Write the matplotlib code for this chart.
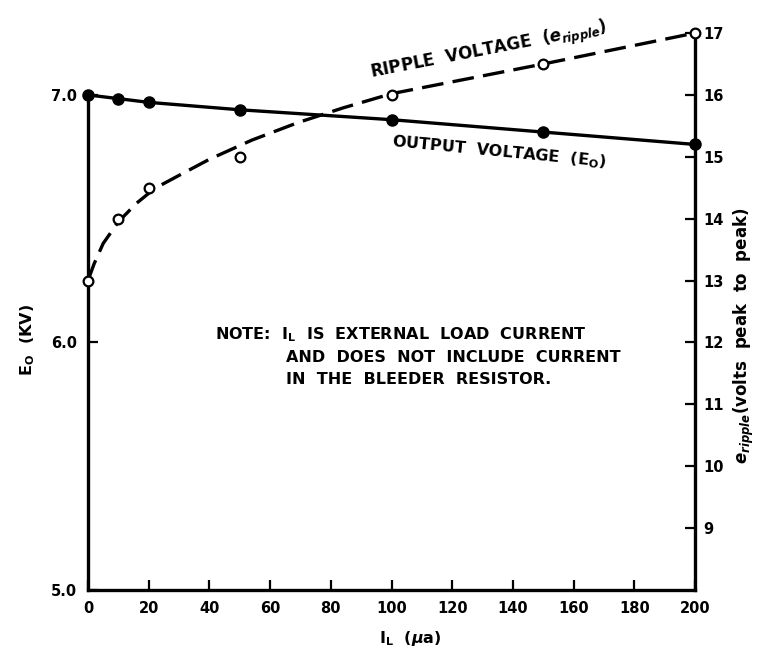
import matplotlib
matplotlib.use("Agg")
import matplotlib.pyplot as plt

plt.rcParams['font.family'] = 'DejaVu Sans'
plt.rcParams['font.weight'] = 'bold'
plt.rcParams['mathtext.fontset'] = 'dejavusans'

# load current (microamps) at the measured points
load_ua = [0, 10, 20, 50, 100, 150, 200]
# output voltage E_O in kV (filled dots, left scale)
output_kv = [7.0, 6.985, 6.97, 6.94, 6.9, 6.85, 6.8]
# ripple voltage in volts peak to peak (open dots, right scale)
ripple_v = [13.0, 14.0, 14.5, 15.0, 16.0, 16.5, 17.0]

# hand-faired dashed curve through the ripple readings
ripple_curve_x = [0, 2, 5, 10, 16, 22, 30, 40, 54, 69, 84, 100, 125, 150, 175, 200]
ripple_curve_y = [13.0, 13.27, 13.6, 13.95, 14.25, 14.49, 14.7, 14.96, 15.27,
                  15.55, 15.79, 16.02, 16.26, 16.5, 16.75, 17.0]

x_ticks = list(range(0, 201, 20))
left_ticks = [5.0, 6.0, 7.0]
left_tick_labels = ['5.0', '6.0', '7.0']
right_ticks = list(range(9, 18))

note_lines = ["NOTE:  I$_{\\rm L}$  IS  EXTERNAL  LOAD  CURRENT",
              "AND  DOES  NOT  INCLUDE  CURRENT",
              "IN  THE  BLEEDER  RESISTOR."]

fig = plt.figure(figsize=(7.58, 6.48), dpi=100)
ax = fig.add_axes([0.1161, 0.0895, 0.8008, 0.8595])
ax2 = ax.twinx()

lw = 2.4
ax.set_xlim(0, 200)
ax.set_ylim(5, 7.25)
ax2.set_ylim(8, 17)

for s in ['top', 'right']:
    ax.spines[s].set_visible(False)
for s in ['top', 'left', 'bottom']:
    ax2.spines[s].set_visible(False)
ax.spines['left'].set_bounds(5, 7)
ax.spines['left'].set_linewidth(lw)
ax.spines['bottom'].set_linewidth(lw)
ax2.spines['right'].set_linewidth(lw)

ax.set_xticks(x_ticks)
ax.set_yticks(left_ticks)
ax.set_yticklabels(left_tick_labels)
ax2.set_yticks(right_ticks)
ax.tick_params(axis='both', direction='in', length=7, width=1.6,
               labelsize=10.5, pad=8)
ax2.tick_params(axis='y', direction='in', length=7, width=1.6,
                labelsize=10.5, pad=6)

# output voltage
ax.plot(load_ua, output_kv, color='black', lw=lw, marker='o', ms=8,
        clip_on=False, zorder=4)

# ripple voltage
ax2.plot(ripple_curve_x, ripple_curve_y, color='black', lw=lw,
         dashes=(6.5, 2.8), clip_on=False, zorder=3)
ax2.plot(load_ua, ripple_v, linestyle='none', marker='o', ms=7,
         mfc='white', mec='black', mew=1.6, clip_on=False, zorder=5)

ax2.text(132, 16.7, "RIPPLE  VOLTAGE  ($e_{ripple}$)", rotation=11,
         ha='center', va='center', fontsize=12)
ax.text(135.5, 6.77, "OUTPUT  VOLTAGE  (E$_{\\rm O}$)", rotation=-5.5,
        ha='center', va='center', fontsize=11.5)

ax.text(41.8, 6.03, note_lines[0], ha='left', va='center', fontsize=11.5)
ax.text(65.2, 5.94, note_lines[1], ha='left', va='center', fontsize=11.5)
ax.text(65.2, 5.85, note_lines[2], ha='left', va='center', fontsize=11.5)

fig.text(410 / 758, 1 - 638 / 648, "I$_{\\rm L}$  ($\\mu$a)",
         ha='center', va='center', fontsize=11.5)
fig.text(28 / 758, 1 - 340 / 648, "E$_{\\rm O}$  (KV)", rotation=90,
         ha='center', va='center', fontsize=11.5)
fig.text(744 / 758, 1 - 336 / 648, "$e_{ripple}$(volts  peak  to  peak)",
         rotation=90, ha='center', va='center', fontsize=12)

fig.savefig("out.png", dpi=100)
